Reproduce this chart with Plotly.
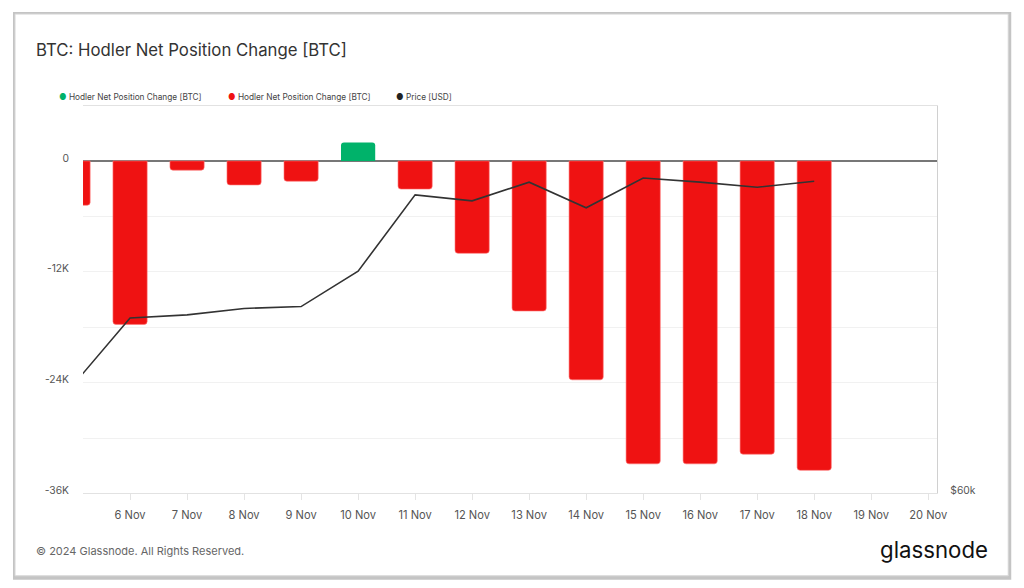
import plotly.graph_objects as go

dates = ["2024-11-05", "2024-11-06", "2024-11-07", "2024-11-08", "2024-11-09", "2024-11-10",
         "2024-11-11", "2024-11-12", "2024-11-13", "2024-11-14", "2024-11-15", "2024-11-16",
         "2024-11-17", "2024-11-18"]
net_change = [-4800, -17700, -1000, -2600, -2200, 2000, -3050, -10000, -16250, -23700,
              -32800, -32800, -31750, -33500]
price = [69200, 75600, 75900, 76550, 76740, 80400, 88900, 88200, 90400, 87400, 90900,
         90400, 89800, 90500]
tick_dates = ["2024-11-%02d" % d for d in range(6, 21)]
tick_labels = ["%d Nov" % d for d in range(6, 21)]
y_tickvals = [0, -12000, -24000, -36000]
y_ticktext = ["0", "-12K", "-24K", "-36K"]

GREEN = "#00b26a"
RED = "#ef1212"
FONT = "Inter"

pos = [v if v >= 0 else None for v in net_change]
neg = [v if v < 0 else None for v in net_change]
bar_w = 0.6 * 86400000

W, H = 1024, 588
K = 1.0 / 0.99  # compensation so rendered geometry matches the reference


def px(x):
    return x * K / W


def py(y):
    return 1 - y * K / H


def fs(s):
    return s * K


fig = go.Figure()
fig.add_trace(go.Bar(x=dates, y=pos, marker=dict(color=GREEN, line=dict(width=0)),
                     width=bar_w, name="Hodler Net Position Change [BTC]", showlegend=False))
fig.add_trace(go.Bar(x=dates, y=neg, marker=dict(color=RED, line=dict(width=1, color="rgba(255,120,120,0.6)")),
                     width=bar_w, name="Hodler Net Position Change [BTC]", showlegend=False))
fig.add_trace(go.Scatter(x=dates, y=price, yaxis="y2", mode="lines",
                         line=dict(color="#333333", width=1.6), name="Price [USD]", showlegend=False))

shapes = [
    dict(type="rect", xref="paper", yref="paper", x0=px(13), x1=px(1011), y0=py(12), y1=py(577),
         fillcolor="#c4c4c4", line=dict(width=0), layer="below"),
    dict(type="rect", xref="paper", yref="paper", x0=px(15), x1=px(1008), y0=py(14), y1=py(573),
         fillcolor="white", line=dict(width=1, color="#d6d6d6"), layer="below"),
]

annotations = [
    dict(text="BTC: Hodler Net Position Change [BTC]", x=px(34), y=py(50), xref="paper", yref="paper",
         xanchor="left", yanchor="middle", showarrow=False, font=dict(family=FONT, size=fs(16.6), color="#333333")),
    dict(text="© 2024 Glassnode. All Rights Reserved.", x=px(34), y=py(548), xref="paper", yref="paper",
         xanchor="left", yanchor="middle", showarrow=False, font=dict(family=FONT, size=fs(10.9), color="#666666")),
    dict(text="glassnode", x=px(990), y=py(547), xref="paper", yref="paper",
         xanchor="right", yanchor="middle", showarrow=False, font=dict(family=FONT, size=fs(22), color="#111111")),
]
legend_items = [(57, GREEN, "Hodler Net Position Change [BTC]"),
                (226, RED, "Hodler Net Position Change [BTC]"),
                (394, "#222222", "Price [USD]")]
for x0, col, name in legend_items:
    annotations.append(dict(text="<span style='color:%s'>●</span> %s" % (col, name), x=px(x0), y=py(97),
                            xref="paper", yref="paper", xanchor="left", yanchor="middle", showarrow=False,
                            font=dict(family=FONT, size=fs(8.2), color="#444444")))

fig.update_layout(
    width=W, height=H,
    margin=dict(l=0, r=0, t=0, b=0),
    paper_bgcolor="white", plot_bgcolor="rgba(0,0,0,0)",
    barmode="overlay", barcornerradius=3,
    font=dict(family=FONT, color="#555555"),
    shapes=shapes, annotations=annotations,
    xaxis=dict(domain=[px(83), px(937)], type="date",
               range=["2024-11-05 04:12", "2024-11-20 03:47"],
               tickvals=tick_dates, ticktext=tick_labels, tickfont=dict(size=fs(11), color="#555555"),
               ticks="outside", ticklen=6, tickcolor="#e4e4e4", showgrid=False,
               showline=True, linecolor="#e2e2e2", linewidth=1, mirror=True, zeroline=False,
               ticklabelstandoff=5),
    yaxis=dict(domain=[py(491), py(105)], range=[-36000, 6000], tickvals=y_tickvals, ticktext=y_ticktext,
               tickfont=dict(size=fs(10.2), color="#555555"), showgrid=True, gridcolor="#f1f1f1",
               minor=dict(dtick=6000, tick0=0, showgrid=True, gridcolor="#f1f1f1"),
               zeroline=True, zerolinecolor="#777777", zerolinewidth=2, showline=False,
               ticklabelstandoff=13, ticklabelshift=-3),
    yaxis2=dict(overlaying="y", side="right", type="log", range=[4.77815, 5.0],
                tickvals=[60000], ticktext=["$60k"], tickfont=dict(size=fs(10.2), color="#555555"),
                showgrid=False, zeroline=False, showline=True, linecolor="#d0d0d0", linewidth=1,
                ticklabelstandoff=10, ticklabelshift=-3),
)

fig.write_html("out.html")
